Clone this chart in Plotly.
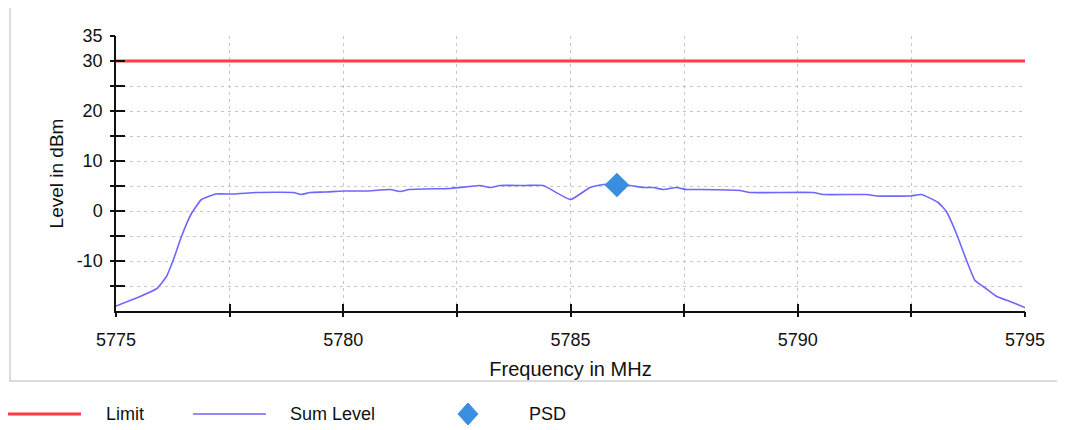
import plotly.graph_objects as go

# ---- data ----
freq_mhz = [5775.0, 5775.53, 5775.9, 5776.11, 5776.26, 5776.44, 5776.66, 5776.88, 5777.2, 5777.6,
            5778.1, 5778.9, 5779.08, 5779.27, 5779.6, 5780.0, 5780.5, 5781.03, 5781.25, 5781.45,
            5782.35, 5782.57, 5783.0, 5783.23, 5783.45, 5784.0, 5784.4, 5785.0, 5785.43, 5785.72,
            5786.0, 5786.31, 5786.6, 5786.82, 5787.04, 5787.33, 5787.55, 5787.85, 5788.73, 5788.95,
            5790.34, 5790.56, 5791.52, 5791.74, 5792.47, 5792.72, 5793.09, 5793.27, 5793.49, 5793.71,
            5793.9, 5794.08, 5794.38, 5794.67, 5795.0]
sum_level = [-19.0, -17.1, -15.5, -13.1, -9.8, -5.1, -0.5, 2.3, 3.4, 3.4,
             3.7, 3.7, 3.3, 3.7, 3.8, 4.0, 4.0, 4.3, 3.9, 4.3,
             4.5, 4.7, 5.1, 4.7, 5.1, 5.1, 5.1, 2.3, 4.7, 5.3,
             5.3, 5.1, 4.7, 4.7, 4.3, 4.7, 4.3, 4.3, 4.1, 3.7,
             3.7, 3.3, 3.3, 3.0, 3.0, 3.3, 1.7, -0.1, -4.5, -9.8,
             -13.9, -15.1, -17.1, -18.1, -19.3]
limit_freq = [5775.0, 5795.0]
limit_level = [30.0, 30.0]
psd_freq = [5786.02]
psd_level = [5.2]

x_label_vals = [5775, 5780, 5785, 5790, 5795]
x_tick_vals = [5775, 5777.5, 5780, 5782.5, 5785, 5787.5, 5790, 5792.5, 5795]
y_label_vals = [-10, 0, 10, 20, 30, 35]
y_label_text = ["-10", "0", "10", "20", "30", "35"]
y_tick_vals = [-15, -10, -5, 0, 5, 10, 15, 20, 25, 30, 35]

FONT = "Liberation Sans, Arial, sans-serif"
GRID = "#c6c6c6"
GDASH = "3px,4px"
RED = "#ff3b46"
BLUE = "#6f66ff"
PSD_C = "#3a8ee0"

fig = go.Figure()
fig.add_trace(go.Scatter(x=limit_freq, y=limit_level, mode="lines", name="Limit",
                         line=dict(color=RED, width=3), showlegend=False))
fig.add_trace(go.Scatter(x=freq_mhz, y=sum_level, mode="lines", name="Sum Level",
                         line=dict(color=BLUE, width=1.6, shape="spline", smoothing=0.4),
                         showlegend=False))
fig.add_trace(go.Scatter(x=psd_freq, y=psd_level, mode="markers", name="PSD",
                         marker=dict(symbol="diamond", color=PSD_C, size=19), showlegend=False))
# dummy trace to host the overlay axes (outer part of the crossing ticks)
fig.add_trace(go.Scatter(x=[], y=[], xaxis="x2", yaxis="y2", showlegend=False, hoverinfo="skip"))

fig.update_layout(
    width=1057, height=422,
    margin=dict(l=108, r=40, t=28, b=119),
    paper_bgcolor="white", plot_bgcolor="white",
    font=dict(family=FONT, color="#111", size=18),
    xaxis=dict(range=[5775, 5795], tickvals=x_label_vals, ticks="inside", ticklen=7,
               tickcolor="#111", tickwidth=1.5,
               showline=True, linecolor="#111", linewidth=1.5,
               showgrid=False, zeroline=False, ticklabelstandoff=12,
               tickfont=dict(size=18),
               minor=dict(tickvals=x_tick_vals, ticks="inside", ticklen=7, tickcolor="#111",
                          tickwidth=1.5, showgrid=True, gridcolor=GRID, griddash=GDASH, gridwidth=1),
               title=dict(text="Frequency in MHz", font=dict(size=20), standoff=13)),
    yaxis=dict(range=[-20, 35], tickvals=y_label_vals, ticktext=y_label_text, ticks="inside", ticklen=9,
               tickcolor="#111", tickwidth=1.5,
               showline=True, linecolor="#111", linewidth=1.5,
               showgrid=False, zeroline=False, ticklabelstandoff=8,
               tickfont=dict(size=18),
               minor=dict(tickvals=y_tick_vals, ticks="inside", ticklen=9, tickcolor="#111",
                          tickwidth=1.5, showgrid=True, gridcolor=GRID, griddash=GDASH, gridwidth=1),
               title=dict(text="Level in dBm", font=dict(size=19), standoff=8)),
    xaxis2=dict(overlaying="x", range=[5775, 5795], tickvals=x_tick_vals, ticks="outside",
                ticklen=5, tickcolor="#111", tickwidth=1.5, showticklabels=False,
                showgrid=False, zeroline=False, showline=False),
    yaxis2=dict(overlaying="y", range=[-20, 35], tickvals=y_tick_vals, ticks="outside",
                ticklen=5, tickcolor="#111", tickwidth=1.5, showticklabels=False,
                showgrid=False, zeroline=False, showline=False),
)

# outer frame around the chart
fig.add_shape(type="rect", xref="paper", yref="paper",
              x0=-0.1166, x1=1.0385, y0=-0.2545, y1=1.12,
              line=dict(color="#cfcfcf", width=1.5), fillcolor="rgba(0,0,0,0)", layer="below")

# manual legend below the frame
LY = -0.3745
fig.add_shape(type="line", xref="paper", yref="paper", x0=-0.1188, x1=-0.0385, y0=LY, y1=LY,
              line=dict(color=RED, width=3))
fig.add_shape(type="line", xref="paper", yref="paper", x0=0.0847, x1=0.1650, y0=LY, y1=LY,
              line=dict(color=BLUE, width=1.6))
dx, dy = 0.0110, 0.040
cx = 0.3872
fig.add_shape(type="path", xref="paper", yref="paper",
              path=f"M {cx-dx} {LY} L {cx} {LY+dy} L {cx+dx} {LY} L {cx} {LY-dy} Z",
              fillcolor=PSD_C, line=dict(color=PSD_C, width=1))
for xpos, label in [(-0.0110, "Limit"), (0.1914, "Sum Level"), (0.4543, "PSD")]:
    fig.add_annotation(x=xpos, y=LY, xref="paper", yref="paper", text=label, showarrow=False,
                       xanchor="left", yanchor="middle", xshift=-2,
                       font=dict(size=18, color="#111"))

fig.write_html("out.html")
